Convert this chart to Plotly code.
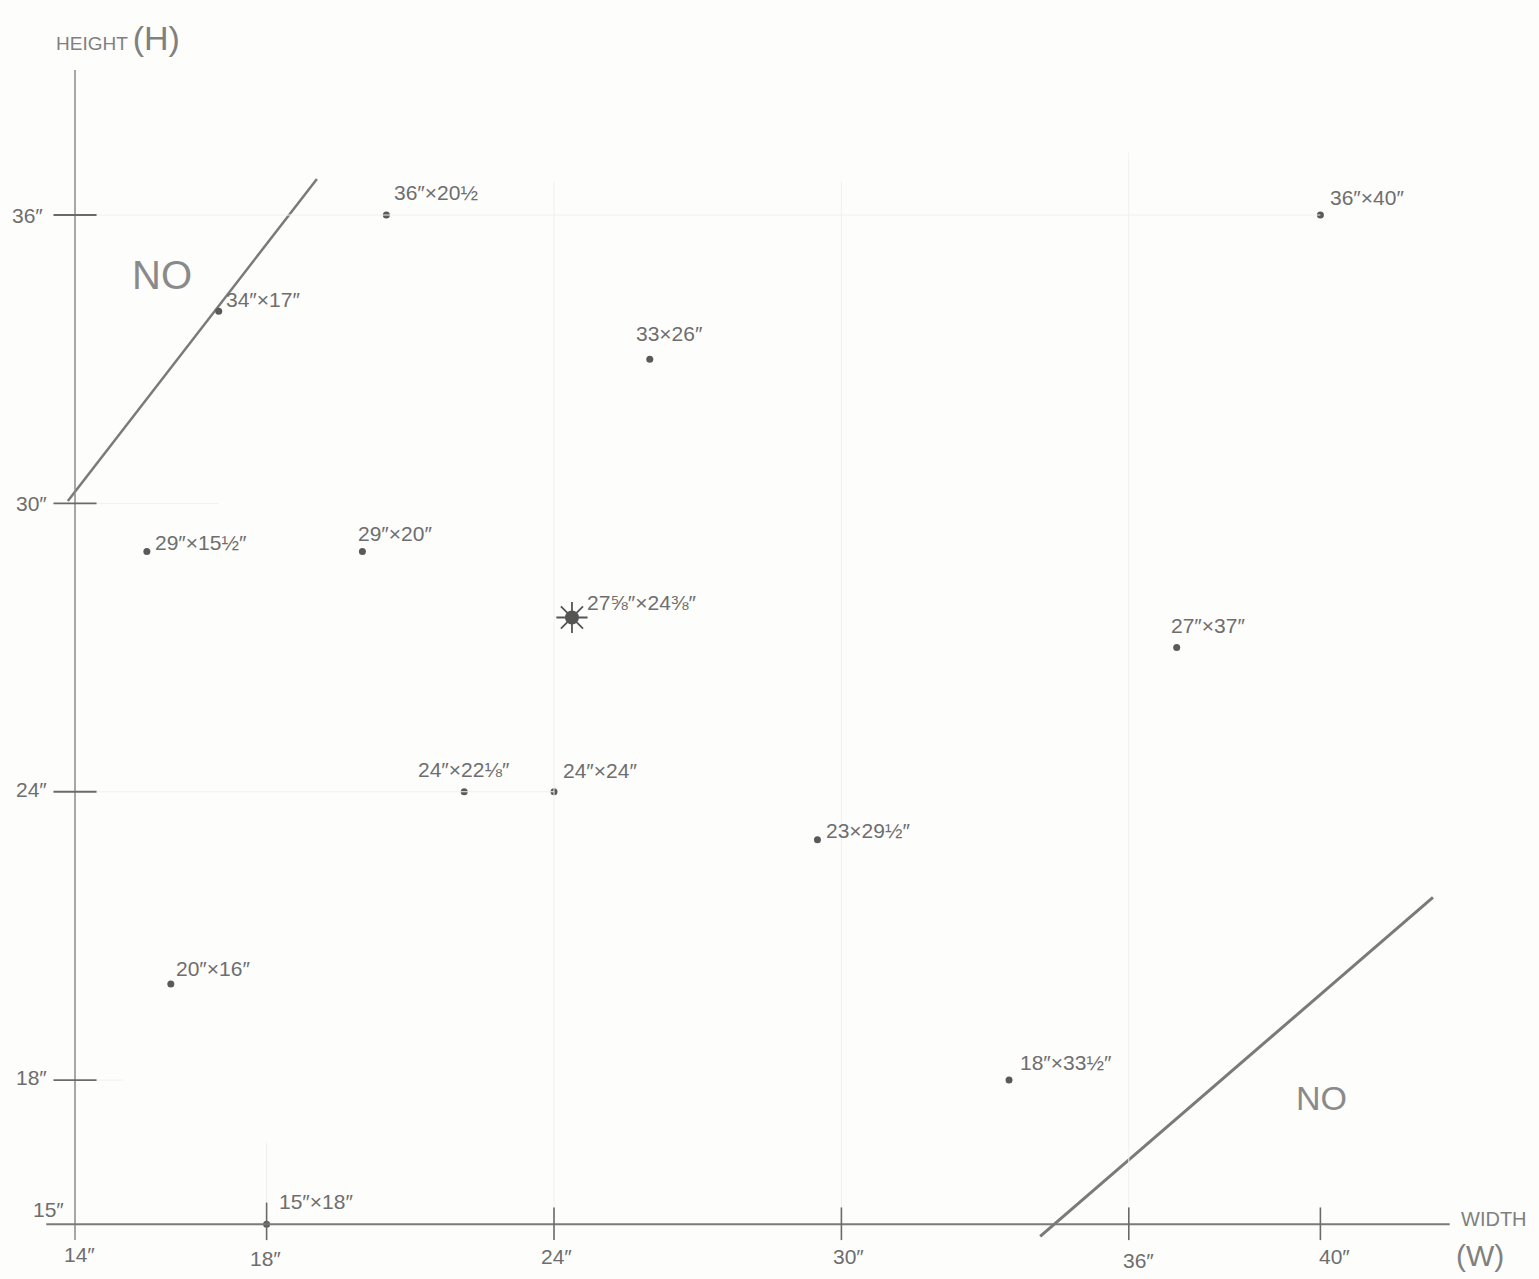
import plotly.graph_objects as go

# ---------------- data ----------------
widths = [20.5, 17, 26, 40, 15.5, 20, 24.375, 37, 22.125, 24, 29.5, 16, 33.5, 18]
heights = [36, 34, 33, 36, 29, 29, 27.625, 27, 24, 24, 23, 20, 18, 15]
labels = ['36″×20½', '34″×17″', '33×26″', '36″×40″', '29″×15½″', '29″×20″',
          '27⅝″×24⅜″', '27″×37″', '24″×22⅛″', '24″×24″', '23×29½″', '20″×16″',
          '18″×33½″', '15″×18″']
highlight = '27⅝″×24⅜″'

xtick_vals = [14, 18, 24, 30, 36, 40]
xtick_text = ['14″', '18″', '24″', '30″', '36″', '40″']
ytick_vals = [36, 30, 24, 18, 15]
ytick_text = ['36″', '30″', '24″', '18″', '15″']

no_line_top_w = [13.85, 19.05]
no_line_top_h = [30.05, 36.75]
no_line_bot_w = [34.15, 42.35]
no_line_bot_h = [14.75, 21.8]

# ---------------- styling ----------------
PENCIL = '#6e6e6e'
DARK = '#5a5a5a'
FONT = 'Liberation Sans'
W, H = 1539, 1279
XR = [12.434, 44.564]
YR = [13.861, 40.474]

# label offsets (pixels) relative to each point: (xshift, yshift, xanchor)
label_offsets = [(6, 23, 'left'), (5, 12, 'left'), (20, 26, 'center'), (8, 18, 'left'),
                 (6, 9, 'left'), (-6, 18, 'left'), (13, 15, 'left'), (-8, 22, 'left'),
                 (0, 22, 'center'), (7, 21, 'left'), (7, 9, 'left'), (3, 15, 'left'),
                 (9, 18, 'left'), (10, 23, 'left')]

fig = go.Figure()

# NO lines
fig.add_trace(go.Scatter(x=no_line_top_w, y=no_line_top_h, mode='lines',
                         line=dict(color='#7a7a7a', width=2.5), hoverinfo='skip'))
fig.add_trace(go.Scatter(x=no_line_bot_w, y=no_line_bot_h, mode='lines',
                         line=dict(color='#7a7a7a', width=3), hoverinfo='skip'))

# points
norm_w = [w for w, l in zip(widths, labels) if l != highlight]
norm_h = [h for h, l in zip(heights, labels) if l != highlight]
hi_w = [w for w, l in zip(widths, labels) if l == highlight]
hi_h = [h for h, l in zip(heights, labels) if l == highlight]
fig.add_trace(go.Scatter(x=norm_w, y=norm_h, mode='markers',
                         marker=dict(color=DARK, size=7), hoverinfo='skip'))
fig.add_trace(go.Scatter(x=hi_w, y=hi_h, mode='markers',
                         marker=dict(color='#555555', size=14), hoverinfo='skip'))
fig.add_trace(go.Scatter(x=hi_w, y=hi_h, mode='markers',
                         marker=dict(symbol='asterisk-open', size=26, color='#555555',
                                     line=dict(color='#555555', width=1.8)),
                         hoverinfo='skip'))

shapes = []
# faint grid lines
grid_col = '#f0f0f0'
for yv, x_end in [(36, 40), (30, 17), (24, 24), (18, 15)]:
    shapes.append(dict(type='line', x0=14.45, x1=x_end, y0=yv, y1=yv,
                       line=dict(color=grid_col, width=1)))
for xv, y_top in [(24, 36.7), (30, 36.7), (36, 37.3), (18, 16.7)]:
    shapes.append(dict(type='line', x0=xv, x1=xv, y0=15, y1=y_top,
                       line=dict(color=grid_col, width=1)))

# axes
shapes.append(dict(type='line', x0=14, x1=14, y0=14.67, y1=39.02,
                   line=dict(color='#8a8a8a', width=1.5)))
shapes.append(dict(type='line', x0=13.4, x1=42.7, y0=15, y1=15,
                   line=dict(color='#7a7a7a', width=2)))
# y ticks
for yv in ytick_vals[:-1]:
    shapes.append(dict(type='line', x0=13.55, x1=14.45, y0=yv, y1=yv,
                       line=dict(color='#6a6a6a', width=1.8)))
# x ticks
for xv in xtick_vals[1:]:
    top = 15.45 if xv == 18 else 15.35
    shapes.append(dict(type='line', x0=xv, x1=xv, y0=14.67, y1=top,
                       line=dict(color='#6a6a6a', width=1.6)))

annotations = []
for w, h, lab, (dx, dy, anc) in zip(widths, heights, labels, label_offsets):
    annotations.append(dict(x=w, y=h, text=lab, showarrow=False, xanchor=anc,
                            yanchor='middle', xshift=dx, yshift=dy,
                            font=dict(family=FONT, size=21, color=PENCIL)))

# tick labels
ytick_pos = {36: (13.0, 36.0), 30: (13.1, 30.0), 24: (13.1, 24.05), 18: (13.1, 18.05), 15: (13.45, 15.3)}
for v, t in zip(ytick_vals, ytick_text):
    px, py = ytick_pos[v]
    annotations.append(dict(x=px, y=py, text=t, showarrow=False, xanchor='center',
                            yanchor='middle', font=dict(family=FONT, size=21, color=PENCIL)))
xtick_pos = {14: (14.1, 14.38), 18: (17.98, 14.28), 24: (24.05, 14.32),
             30: (30.15, 14.32), 36: (36.2, 14.25), 40: (40.3, 14.32)}
for v, t in zip(xtick_vals, xtick_text):
    px, py = xtick_pos[v]
    annotations.append(dict(x=px, y=py, text=t, showarrow=False, xanchor='center',
                            yanchor='middle', font=dict(family=FONT, size=21, color=PENCIL)))

# axis titles
annotations.append(dict(x=14.9, y=39.68, showarrow=False, xanchor='center', yanchor='middle',
                        text="HEIGHT <span style='font-size:34px'>(H)</span>",
                        font=dict(family=FONT, size=19, color='#808080')))
annotations.append(dict(x=43.62, y=15.1, showarrow=False, xanchor='center', yanchor='middle',
                        text='WIDTH', font=dict(family=FONT, size=20, color='#808080')))
annotations.append(dict(x=43.33, y=14.36, showarrow=False, xanchor='center', yanchor='middle',
                        text='(W)', font=dict(family=FONT, size=30, color='#808080')))

# NO region labels
annotations.append(dict(x=15.82, y=34.75, text='NO', showarrow=False,
                        font=dict(family=FONT, size=40, color='#8a8a8a')))
annotations.append(dict(x=40.03, y=17.63, text='NO', showarrow=False,
                        font=dict(family=FONT, size=34, color='#8a8a8a')))

fig.update_layout(
    width=W, height=H,
    margin=dict(l=0, r=0, t=0, b=0),
    paper_bgcolor='#fdfdfc', plot_bgcolor='#fdfdfc',
    showlegend=False,
    xaxis=dict(range=XR, visible=False, fixedrange=True),
    yaxis=dict(range=YR, visible=False, fixedrange=True),
    shapes=shapes, annotations=annotations,
)

fig.write_html("out.html", config={'displayModeBar': False},
               post_script="document.body.style.margin='0';document.body.style.overflow='hidden';")
